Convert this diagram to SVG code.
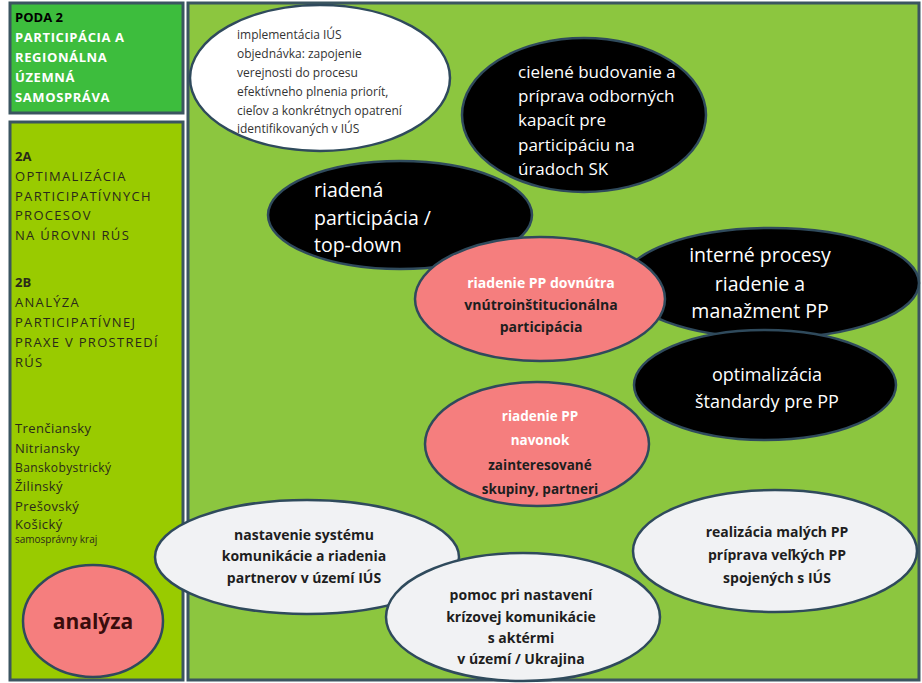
<svg xmlns="http://www.w3.org/2000/svg" width="922" height="683" viewBox="0 0 922 683">
<style>
.panel{stroke:#3b5560;stroke-width:3}
.el{stroke:#2f4a5c;stroke-width:2.5}
.blk{fill:#000}
.wht{fill:#f1f2f4}
.pnk{fill:#f57e7e}
text{font-family:"Open Sans","Liberation Sans",sans-serif}
.lt{font-size:13px;font-weight:bold;fill:#fff;letter-spacing:0.6px}
.lb{font-size:13px;fill:#2a2a1a;letter-spacing:1.3px}
.rg{font-size:13px;fill:#2a2a1a;letter-spacing:0.4px}
.bw{fill:#fff}
.dk{fill:#1e1e1e;font-weight:bold}
</style>
<rect x="0" y="0" width="922" height="683" fill="#fff"/>
<g id="poda2">
<rect class="panel" x="10" y="3" width="173" height="110" fill="#3dbd3d"/>
<text x="15" y="22" style="font-size:13px;font-weight:bold;fill:#000">PODA 2</text>
<text class="lt" x="15" y="42">PARTICIPÁCIA A</text>
<text class="lt" x="15" y="62">REGIONÁLNA</text>
<text class="lt" x="15" y="82">ÚZEMNÁ</text>
<text class="lt" x="15" y="102">SAMOSPRÁVA</text>
</g>
<g id="sidebar">
<rect class="panel" x="10" y="122" width="173" height="558" fill="#99cb00"/>
<text class="lb" x="15" y="161" style="font-weight:bold;letter-spacing:0">2A</text>
<text class="lb" x="15" y="181">OPTIMALIZÁCIA</text>
<text class="lb" x="15" y="201">PARTICIPATÍVNYCH</text>
<text class="lb" x="15" y="220">PROCESOV</text>
<text class="lb" x="15" y="240">NA ÚROVNI RÚS</text>
<text class="lb" x="15" y="287" style="font-weight:bold;letter-spacing:0">2B</text>
<text class="lb" x="15" y="307">ANALÝZA</text>
<text class="lb" x="15" y="327">PARTICIPATÍVNEJ</text>
<text class="lb" x="15" y="347">PRAXE V PROSTREDÍ</text>
<text class="lb" x="15" y="367">RÚS</text>
<text class="rg" x="15" y="433">Trenčiansky</text>
<text class="rg" x="15" y="453">Nitriansky</text>
<text class="rg" x="15" y="472" style="font-size:12px">Banskobystrický</text>
<text class="rg" x="15" y="491">Žilinský</text>
<text class="rg" x="15" y="511">Prešovský</text>
<text class="rg" x="15" y="529">Košický</text>
<text class="rg" x="15" y="543" style="font-size:10px;letter-spacing:0">samosprávny kraj</text>
</g>
<g id="analyza">
<ellipse class="el pnk" cx="93" cy="621" rx="70" ry="56"/>
<text x="93" y="629" text-anchor="middle" style="font-size:21px;font-weight:bold;fill:#3a0c0c">analýza</text>
</g>
<g id="main">
<rect class="panel" x="188" y="3" width="731" height="677" fill="#8cc63f"/>
</g>
<g id="connectors"></g>
<g id="implementacia">
<ellipse class="el wht" cx="320" cy="78" rx="130" ry="73" style="fill:#fff"/>
<g style="font-size:12px;fill:#333">
<text x="237" y="39">implementácia IÚS</text>
<text x="237" y="58">objednávka: zapojenie</text>
<text x="237" y="77">verejnosti do procesu</text>
<text x="237" y="96">efektívneho plnenia priorít,</text>
<text x="237" y="115">cieľov a konkrétnych  opatrení</text>
<text x="237" y="133">identifikovaných v IÚS</text>
</g>
</g>
<g id="cielene">
<ellipse class="el blk" cx="584" cy="115" rx="122" ry="77"/>
<g class="bw" style="font-size:17px">
<text x="518" y="78">cielené budovanie a</text>
<text x="518" y="102">príprava odborných</text>
<text x="518" y="126">kapacít pre</text>
<text x="518" y="151">participáciu na</text>
<text x="518" y="175">úradoch SK</text>
</g>
</g>
<g id="riadena">
<ellipse class="el blk" cx="400" cy="215" rx="132" ry="54"/>
<g class="bw" style="font-size:19.5px">
<text x="314" y="197">riadená</text>
<text x="314" y="225">participácia /</text>
<text x="314" y="252">top-down</text>
</g>
</g>
<g id="interne">
<ellipse class="el blk" cx="771" cy="283" rx="148" ry="55"/>
<g class="bw" style="font-size:19.5px" text-anchor="middle">
<text x="760" y="262">interné procesy</text>
<text x="760" y="291">riadenie a</text>
<text x="760" y="318">manažment PP</text>
</g>
</g>
<g id="dovnutra">
<ellipse class="el pnk" cx="540" cy="299" rx="125" ry="62"/>
<g style="font-size:14px;font-weight:bold" text-anchor="middle">
<text x="541" y="288" fill="#fff">riadenie PP dovnútra</text>
<text class="dk" x="541" y="310">vnútroinštitucionálna</text>
<text class="dk" x="541" y="332">participácia</text>
</g>
</g>
<g id="optimalizacia">
<ellipse class="el blk" cx="765" cy="385" rx="131" ry="55"/>
<g class="bw" style="font-size:18px" text-anchor="middle">
<text x="767" y="381">optimalizácia</text>
<text x="767" y="408">štandardy pre PP</text>
</g>
</g>
<g id="navonok">
<ellipse class="el pnk" cx="537" cy="444" rx="112" ry="62"/>
<g style="font-size:13.5px;font-weight:bold" text-anchor="middle">
<text x="540" y="421" fill="#fff">riadenie PP</text>
<text x="540" y="445" fill="#fff">navonok</text>
<text class="dk" x="540" y="470">zainteresované</text>
<text class="dk" x="540" y="494">skupiny, partneri</text>
</g>
</g>
<g id="realizacia">
<ellipse class="el wht" cx="775" cy="551" rx="142" ry="61"/>
<g class="dk" style="font-size:14px" text-anchor="middle">
<text x="777" y="537">realizácia malých PP</text>
<text x="777" y="560">príprava veľkých PP</text>
<text x="777" y="583">spojených s IÚS</text>
</g>
</g>
<g id="nastavenie">
<ellipse class="el wht" cx="307" cy="557" rx="152" ry="57"/>
<g class="dk" style="font-size:14px" text-anchor="middle">
<text x="304" y="540">nastavenie systému</text>
<text x="304" y="561">komunikácie a riadenia</text>
<text x="304" y="583">partnerov v území IÚS</text>
</g>
</g>
<g id="pomoc">
<ellipse class="el wht" cx="523" cy="617" rx="137" ry="64"/>
<g class="dk" style="font-size:14px" text-anchor="middle">
<text x="521" y="600">pomoc pri nastavení</text>
<text x="521" y="622">krízovej komunikácie</text>
<text x="521" y="643">s aktérmi</text>
<text x="521" y="664">v území / Ukrajina</text>
</g>
</g>
</svg>
